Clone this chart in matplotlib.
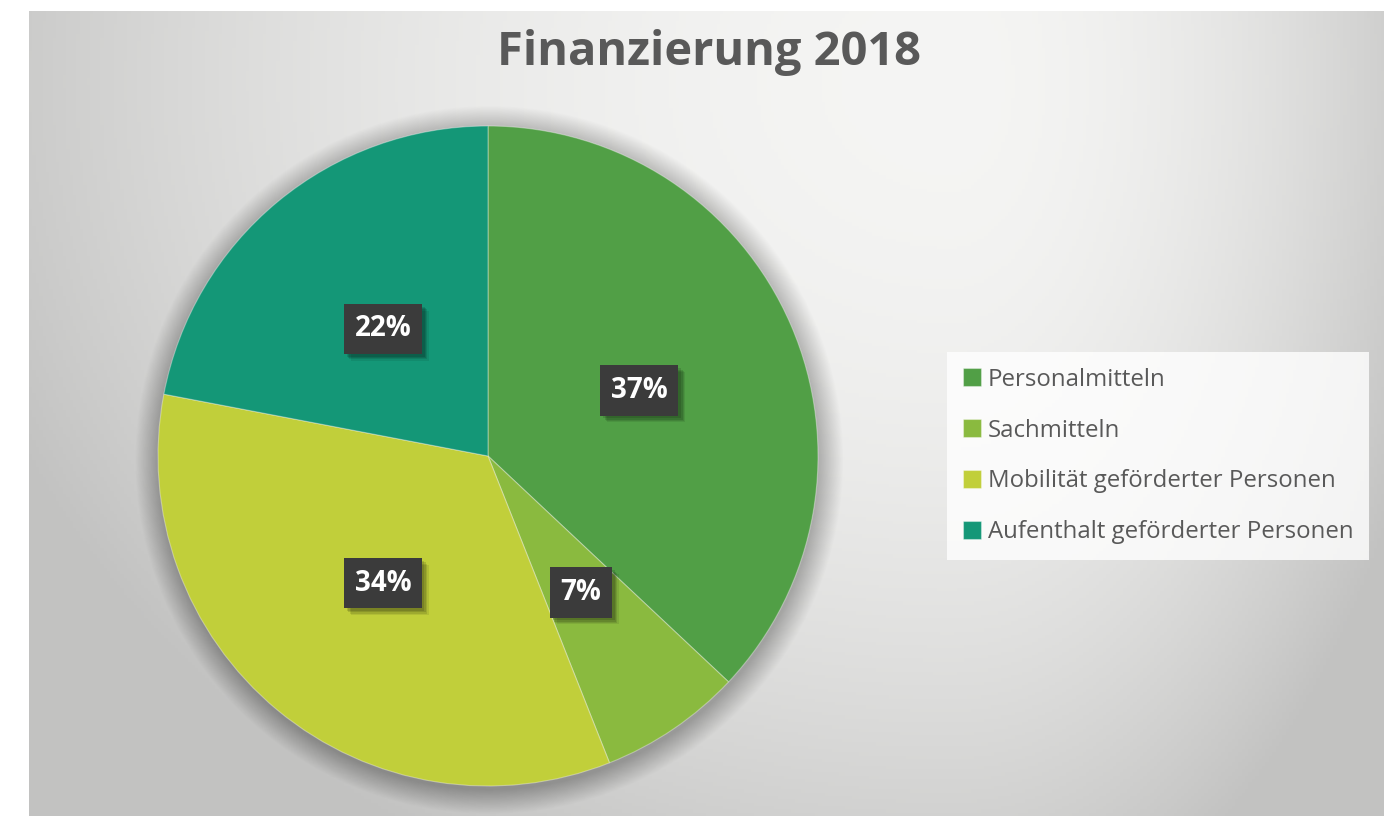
import numpy as np
import matplotlib.pyplot as plt
from matplotlib.patches import Circle
import matplotlib.patheffects as pe

plt.rcParams['font.family'] = ['Open Sans', 'DejaVu Sans']

# Daten
kategorien = ['Personalmitteln', 'Sachmitteln', 'Mobilität geförderter Personen',
              'Aufenthalt geförderter Personen']
anteile = [37, 7, 34, 22]
farben = ['#519f46', '#8aba3f', '#c1cf3a', '#149777']
titel = 'Finanzierung 2018'

W, H = 1392, 816
fig = plt.figure(figsize=(W / 100, H / 100), dpi=100)
fig.patch.set_facecolor('white')

# Hintergrund mit Verlauf
bg = fig.add_axes([29 / W, 0, (1383 - 29) / W, (816 - 11) / H])
xs = np.linspace(29, 1383, 400)
ys = np.linspace(11, 816, 240)
X, Y = np.meshgrid(xs, ys)
cx, cy = 950, 80
dx = np.where(X < cx, (X - cx) / 950, (X - cx) / 470)
dy = (Y - cy) / 820
d2 = np.clip(dx ** 2 + dy ** 2, 0, 1.15)
val = 0.96 - 0.17 * d2
img = np.dstack([val, val, val * 0.995])
bg.imshow(img, extent=[0, 1, 0, 1], aspect='auto', origin='upper')
bg.axis('off')

# Kreisdiagramm
ax = fig.add_axes([(488 - 330) / W, (816 - 456 - 330) / H, 660 / W, 660 / H])
ax.patch.set_alpha(0)

# weicher Schatten um den Kreis
for k in range(30):
    ax.add_patch(Circle((0.004, -0.012), 1.0 + 0.0025 * k, color='black',
                        alpha=0.009, lw=0, zorder=0, clip_on=False))

wedges, texts, autotexts = ax.pie(
    anteile, colors=farben, startangle=90, counterclock=False,
    autopct='%1.0f%%', pctdistance=0.5,
    wedgeprops=dict(edgecolor=(1, 1, 1, 0.35), linewidth=0.8),
    textprops=dict(color='white', fontsize=20, fontweight='bold'))
for w in wedges:
    w.set_zorder(2)

for t in autotexts:
    t.set_zorder(5)
    t.set_bbox(dict(boxstyle='square,pad=0.38', facecolor='#3b3b3b', edgecolor='none'))
    t.get_bbox_patch().set_path_effects([
        pe.SimplePatchShadow(offset=(5, -5), shadow_rgbFace='black', alpha=0.08),
        pe.SimplePatchShadow(offset=(4, -4), shadow_rgbFace='black', alpha=0.1),
        pe.SimplePatchShadow(offset=(3, -3), shadow_rgbFace='black', alpha=0.12),
        pe.SimplePatchShadow(offset=(2, -2), shadow_rgbFace='black', alpha=0.12),
        pe.Normal()])

ax.set_xlim(-1, 1)
ax.set_ylim(-1, 1)
ax.axis('off')

# Titel
fig.text(709 / W, 1 - 53 / H, titel, ha='center', va='center',
         fontsize=33.8, fontweight='bold', color='#595959')

# Legende
leg = fig.legend(wedges, kategorien, loc='center left',
                 bbox_to_anchor=(947 / W, 1 - 456 / H),
                 frameon=True, fancybox=False, fontsize=17.3,
                 labelcolor='#595959', handlelength=0.75, handleheight=0.75,
                 handletextpad=0.3, labelspacing=1.12, borderpad=0.65,
                 borderaxespad=0)
leg.get_frame().set_facecolor((1, 1, 1, 0.3))
leg.get_frame().set_edgecolor('none')

fig.savefig('out.png', dpi=100)
